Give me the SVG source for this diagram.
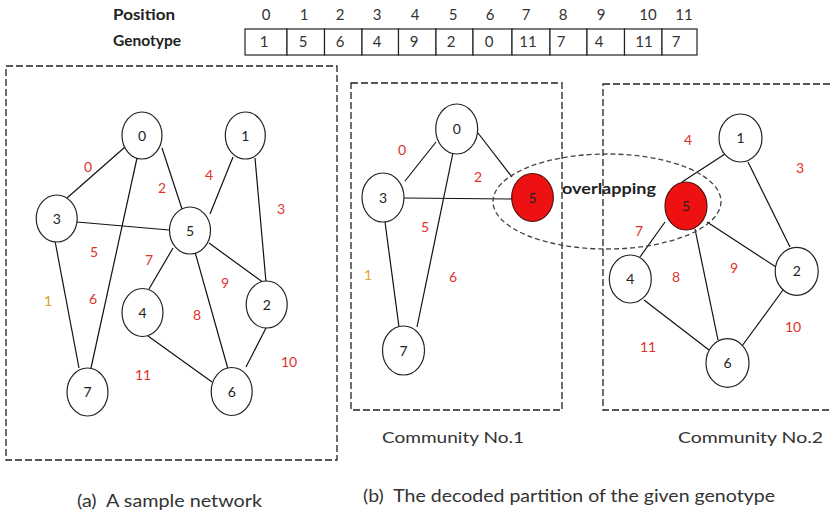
<svg xmlns="http://www.w3.org/2000/svg" width="831" height="517" viewBox="0 0 831 517">
<style>
.bg{fill:#ffffff}
.frame{fill:none;stroke:#222;stroke-width:1.3;stroke-dasharray:7 3}
.ov{fill:none;stroke:#444;stroke-width:1.3;stroke-dasharray:5 3}
.edge{stroke:#111;stroke-width:1.2;fill:none}
.node{fill:#fff;stroke:#222;stroke-width:1.2}
.red{fill:#ee1111;stroke:#551111;stroke-width:1.2}
.nl{font-family:Lato,"Open Sans","Liberation Sans",sans-serif;font-size:14px;fill:#222;text-anchor:middle}
.el{font-family:Lato,"Open Sans","Liberation Sans",sans-serif;font-size:14px;fill:#e0322c;text-anchor:middle}
.eo{fill:#e8a23a}
.ey{fill:#d9a418}
.hd{font-family:Lato,"Open Sans","Liberation Sans",sans-serif;font-size:16px;font-weight:bold;fill:#222}
.tv{font-family:Lato,"Open Sans","Liberation Sans",sans-serif;font-size:15px;fill:#333;text-anchor:middle}
.cell{fill:#fff;stroke:#222;stroke-width:1.2}
.cap{font-family:Lato,"Open Sans","Liberation Sans",sans-serif;font-size:17px;fill:#333}
.com{font-family:Lato,"Open Sans","Liberation Sans",sans-serif;font-size:16px;fill:#333}
.olab{font-family:Lato,"Open Sans","Liberation Sans",sans-serif;font-size:15px;font-weight:bold;fill:#222}
</style>
<rect class="bg" x="0" y="0" width="831" height="517"/>

<g id="table">
  <text class="hd" x="113" y="20" textLength="62" lengthAdjust="spacingAndGlyphs">Position</text>
  <text class="hd" x="113" y="46" textLength="68" lengthAdjust="spacingAndGlyphs">Genotype</text>
  <g>
    <rect class="cell" x="245" y="29" width="42" height="26"/>
    <rect class="cell" x="287" y="29" width="37.5" height="26"/>
    <rect class="cell" x="324.5" y="29" width="37.5" height="26"/>
    <rect class="cell" x="362" y="29" width="36.5" height="26"/>
    <rect class="cell" x="398.5" y="29" width="37.5" height="26"/>
    <rect class="cell" x="436" y="29" width="37" height="26"/>
    <rect class="cell" x="473" y="29" width="39" height="26"/>
    <rect class="cell" x="512" y="29" width="38" height="26"/>
    <rect class="cell" x="550" y="29" width="37" height="26"/>
    <rect class="cell" x="587" y="29" width="37.5" height="26"/>
    <rect class="cell" x="624.5" y="29" width="37.5" height="26"/>
    <rect class="cell" x="662" y="29" width="35" height="26"/>
  </g>
  <g>
    <text class="tv" x="266" y="20">0</text>
    <text class="tv" x="304" y="20">1</text>
    <text class="tv" x="340" y="20">2</text>
    <text class="tv" x="377" y="20">3</text>
    <text class="tv" x="415" y="20">4</text>
    <text class="tv" x="453" y="20">5</text>
    <text class="tv" x="490" y="20">6</text>
    <text class="tv" x="526" y="20">7</text>
    <text class="tv" x="563" y="20">8</text>
    <text class="tv" x="601" y="20">9</text>
    <text class="tv" x="648" y="20">10</text>
    <text class="tv" x="684" y="20">11</text>
  </g>
  <g>
    <text class="tv" x="264" y="47">1</text>
    <text class="tv" x="303" y="47">5</text>
    <text class="tv" x="340" y="47">6</text>
    <text class="tv" x="377" y="47">4</text>
    <text class="tv" x="414" y="47">9</text>
    <text class="tv" x="451" y="47">2</text>
    <text class="tv" x="489" y="47">0</text>
    <text class="tv" x="528" y="47">11</text>
    <text class="tv" x="561" y="47">7</text>
    <text class="tv" x="599" y="47">4</text>
    <text class="tv" x="644" y="47">11</text>
    <text class="tv" x="676" y="47">7</text>
  </g>
</g>

<g id="frames">
  <rect class="frame" x="6" y="66" width="331" height="394"/>
  <rect class="frame" x="351" y="83" width="211" height="327"/>
  <rect class="frame" x="603" y="84" width="235" height="326"/>
</g>

<g id="connectors">
  <line class="edge" x1="125" y1="147" x2="67" y2="198"/>
  <line class="edge" x1="162" y1="148" x2="183" y2="212"/>
  <line class="edge" x1="137" y1="158" x2="91" y2="368"/>
  <line class="edge" x1="233" y1="157" x2="210" y2="214"/>
  <line class="edge" x1="255" y1="158" x2="266" y2="282"/>
  <line class="edge" x1="77" y1="222" x2="169" y2="230"/>
  <line class="edge" x1="55" y1="241" x2="79" y2="368"/>
  <line class="edge" x1="173" y1="248" x2="149" y2="289"/>
  <line class="edge" x1="195" y1="252" x2="228" y2="369"/>
  <line class="edge" x1="209" y1="243" x2="264" y2="283"/>
  <line class="edge" x1="148" y1="336" x2="212" y2="382"/>
  <line class="edge" x1="266" y1="328" x2="246" y2="367"/>
  <line class="edge" x1="436" y1="142" x2="405" y2="181"/>
  <line class="edge" x1="455" y1="143" x2="417" y2="327"/>
  <line class="edge" x1="478" y1="133" x2="512" y2="177"/>
  <line class="edge" x1="404" y1="198" x2="512" y2="199"/>
  <line class="edge" x1="385" y1="222" x2="399" y2="327"/>
  <line class="edge" x1="725" y1="154" x2="682" y2="182"/>
  <line class="edge" x1="748" y1="162" x2="790" y2="247"/>
  <line class="edge" x1="665" y1="222" x2="640" y2="257"/>
  <line class="edge" x1="695" y1="229" x2="718" y2="340"/>
  <line class="edge" x1="707" y1="222" x2="776" y2="267"/>
  <line class="edge" x1="644" y1="300" x2="709" y2="350"/>
  <line class="edge" x1="783" y1="290" x2="742" y2="346"/>
</g>

<g id="edge-labels">
  <text class="el" x="88" y="172">0</text>
  <text class="el" x="162" y="193">2</text>
  <text class="el" x="209" y="180">4</text>
  <text class="el" x="281" y="214">3</text>
  <text class="el" x="94" y="257">5</text>
  <text class="el" x="149" y="265">7</text>
  <text class="el" x="225" y="288">9</text>
  <text class="el ey" x="48" y="306">1</text>
  <text class="el" x="93" y="304">6</text>
  <text class="el" x="197" y="320">8</text>
  <text class="el" x="289" y="367">10</text>
  <text class="el" x="143" y="380">11</text>

  <text class="el" x="402" y="155">0</text>
  <text class="el" x="478" y="182">2</text>
  <text class="el" x="425" y="232">5</text>
  <text class="el eo" x="368" y="280">1</text>
  <text class="el" x="453" y="282">6</text>

  <text class="el" x="688" y="145">4</text>
  <text class="el" x="800" y="173">3</text>
  <text class="el" x="639" y="236">7</text>
  <text class="el" x="676" y="282">8</text>
  <text class="el" x="734" y="273">9</text>
  <text class="el" x="793" y="332">10</text>
  <text class="el" x="648" y="352">11</text>
</g>

<g id="a-node-0"><ellipse class="node" cx="142" cy="135.5" rx="20" ry="23.5"/><text class="nl" x="142" y="140.5">0</text></g>
<g id="a-node-1"><ellipse class="node" cx="245.3" cy="135.5" rx="20" ry="23.5"/><text class="nl" x="245.3" y="140.5">1</text></g>
<g id="a-node-3"><ellipse class="node" cx="56.7" cy="218.5" rx="20.5" ry="23.5"/><text class="nl" x="56.7" y="223.5">3</text></g>
<g id="a-node-5"><ellipse class="node" cx="190" cy="230.5" rx="20.5" ry="23.5"/><text class="nl" x="190" y="235.5">5</text></g>
<g id="a-node-4"><ellipse class="node" cx="142.5" cy="312.5" rx="20.5" ry="24"/><text class="nl" x="142.5" y="317.5">4</text></g>
<g id="a-node-2"><ellipse class="node" cx="266.7" cy="304.5" rx="20.5" ry="23.5"/><text class="nl" x="266.7" y="309.5">2</text></g>
<g id="a-node-7"><ellipse class="node" cx="87.5" cy="392" rx="20.5" ry="24"/><text class="nl" x="87.5" y="397">7</text></g>
<g id="a-node-6"><ellipse class="node" cx="231.7" cy="391.5" rx="20.5" ry="24"/><text class="nl" x="231.7" y="396.5">6</text></g>

<g id="b1-node-0"><ellipse class="node" cx="456.7" cy="129" rx="21" ry="25"/><text class="nl" x="456.7" y="134">0</text></g>
<g id="b1-node-3"><ellipse class="node" cx="383" cy="197.5" rx="21" ry="24.5"/><text class="nl" x="383" y="202.5">3</text></g>
<g id="b1-node-5"><ellipse class="red" cx="532.5" cy="197.5" rx="20.8" ry="24"/><text class="nl" x="532.5" y="202.5">5</text></g>
<g id="b1-node-7"><ellipse class="node" cx="403.5" cy="350.5" rx="21" ry="24.5"/><text class="nl" x="403.5" y="355.5">7</text></g>

<g id="b2-node-1"><ellipse class="node" cx="740.5" cy="138" rx="21.5" ry="24"/><text class="nl" x="740.5" y="143">1</text></g>
<g id="b2-node-5"><ellipse class="red" cx="686" cy="206" rx="21" ry="24"/><text class="nl" x="686" y="211">5</text></g>
<g id="b2-node-4"><ellipse class="node" cx="630.3" cy="279" rx="21" ry="24"/><text class="nl" x="630.3" y="284">4</text></g>
<g id="b2-node-2"><ellipse class="node" cx="796.7" cy="271.3" rx="21.5" ry="24"/><text class="nl" x="796.7" y="276.3">2</text></g>
<g id="b2-node-6"><ellipse class="node" cx="727.5" cy="363" rx="21.5" ry="24.3"/><text class="nl" x="727.5" y="368">6</text></g>

<g id="overlapping">
  <ellipse class="ov" cx="607" cy="201.5" rx="114" ry="47.5"/>
  <text class="olab" x="562" y="194" textLength="94" lengthAdjust="spacingAndGlyphs">overlapping</text>
</g>

<g id="captions">
  <text class="com" x="382" y="443" textLength="142" lengthAdjust="spacingAndGlyphs">Community No.1</text>
  <text class="com" x="678" y="443" textLength="145" lengthAdjust="spacingAndGlyphs">Community No.2</text>
  <text class="cap" x="77" y="507" textLength="185" lengthAdjust="spacingAndGlyphs" xml:space="preserve">(a)  A sample network</text>
  <text class="cap" x="363" y="502" textLength="412" lengthAdjust="spacingAndGlyphs" xml:space="preserve">(b)  The decoded partition of the given genotype</text>
</g>
</svg>
